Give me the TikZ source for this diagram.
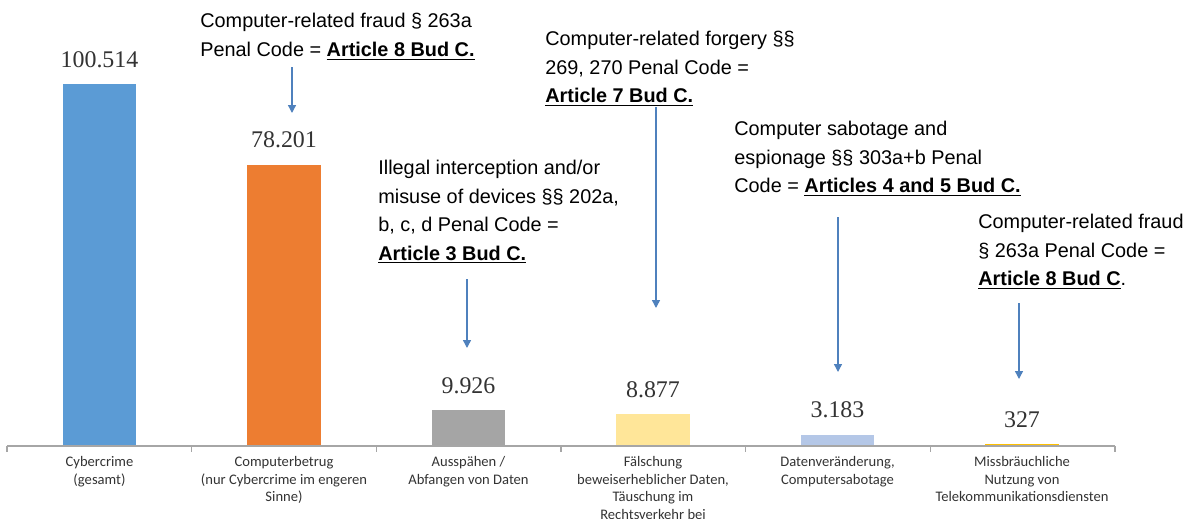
\documentclass[tikz,border=0pt]{standalone}
\usepackage{fontspec}
\setmainfont{Liberation Sans}
\newfontfamily\valuefont{Liberation Serif}
\newfontfamily\catfont{Carlito}
\usepackage{tikz}
\usetikzlibrary{arrows.meta, positioning}
\definecolor{barblue}{RGB}{91,155,213}
\definecolor{barorange}{RGB}{237,125,49}
\definecolor{bargray}{RGB}{165,165,165}
\definecolor{baryellow}{RGB}{255,230,153}
\definecolor{barlight}{RGB}{180,199,231}
\definecolor{bargold}{RGB}{255,192,0}
\definecolor{arrowblue}{RGB}{79,129,189}
\tikzstyle{bar} = [rectangle, draw=none, inner sep=0, outer sep=0, minimum width=1.48cm, anchor=south]
\tikzstyle{value} = [inner sep=0, text=black!80, font=\valuefont\fontsize{13.6}{16}\selectfont]
\tikzstyle{category} = [inner sep=0, align=center, text=black!80, font=\catfont\fontsize{8.3}{10}\selectfont]
\tikzstyle{note} = [inner sep=0, anchor=north west, align=left, font=\fontsize{11.3}{16.2}\selectfont]
\tikzstyle{pointer} = [line width=0.8pt, draw=arrowblue, -{Triangle[width=4.5pt, length=4.5pt]}]
\tikzstyle{axis} = [line width=0.6pt, draw=black!35]

\begin{document}
\begin{tikzpicture}[x=0.02cm, y=-0.02cm]
\useasboundingbox (0,0) rectangle (1198,518);

% bars
\node (cyber) [bar, fill=barblue, minimum height=7.24cm] at (99.5,446) {};
\node (betrug) [bar, fill=barorange, minimum height=5.63cm] at (284,446) {};
\node (ausspaehen) [bar, fill=bargray, minimum height=0.715cm] at (468.5,446) {};
\node (faelschung) [bar, fill=baryellow, minimum height=0.64cm] at (653,446) {};
\node (sabotage) [bar, fill=barlight, minimum height=0.23cm] at (837.5,446) {};
\node (telekom) [bar, fill=bargold, minimum height=0.04cm] at (1022,446) {};

% values
\node (cyberval) [value, above=0.32cm of cyber] {100.514};
\node (betrugval) [value, above=0.32cm of betrug] {78.201};
\node (ausspaehenval) [value, above=0.32cm of ausspaehen] {9.926};
\node (faelschungval) [value, above=0.32cm of faelschung] {8.877};
\node (sabotageval) [value, above=0.32cm of sabotage] {3.183};
\node (telekomval) [value, above=0.32cm of telekom] {327};

% axis
\draw [axis] (7,446) -- (1115,446);
\foreach \x in {7,191.7,376.3,561,745.7,930.3,1115}
  \draw [axis] (\x,446) -- (\x,452);

% categories
\node (cybercat) [category, below=0.2cm of cyber] {Cybercrime\\(gesamt)};
\node (betrugcat) [category, below=0.2cm of betrug] {Computerbetrug\\(nur Cybercrime im engeren\\Sinne)};
\node (ausspaehencat) [category, below=0.2cm of ausspaehen] {Ausspähen /\\Abfangen von Daten};
\node (faelschungcat) [category, below=0.2cm of faelschung] {Fälschung\\beweiserheblicher Daten,\\Täuschung im\\Rechtsverkehr bei};
\node (sabotagecat) [category, below=0.2cm of sabotage] {Datenveränderung,\\Computersabotage};
\node (telekomcat) [category, below=0.2cm of telekom] {Missbräuchliche\\Nutzung von\\Telekommunikationsdiensten};

% notes
\node (fraudnote) [note] at (200,13) {Computer-related fraud § 263a\\Penal Code = \underline{\textbf{Article 8 Bud C.}}};
\node (interceptnote) [note] at (378,160) {Illegal interception and/or\\misuse of devices §§ 202a,\\b, c, d Penal Code =\\\underline{\textbf{Article 3 Bud C.}}};
\node (forgerynote) [note] at (545,31) {Computer-related forgery §§\\269, 270 Penal Code =\\\underline{\textbf{Article 7 Bud C.}}};
\node (sabotagenote) [note] at (734,121) {Computer sabotage and\\espionage §§ 303a+b Penal\\Code = \underline{\textbf{Articles 4 and 5 Bud C.}}};
\node (telekomnote) [note] at (978,214) {Computer-related fraud\\§ 263a Penal Code =\\\underline{\textbf{Article 8 Bud C}}.};

% pointers
\coordinate (fraudtail) at (292,67);
\coordinate (fraudtip) at (292,113);
\coordinate (intercepttail) at (467,279);
\coordinate (intercepttip) at (467,348);
\coordinate (forgerytail) at (656,107);
\coordinate (forgerytip) at (656,308);
\coordinate (sabotagetail) at (838,217);
\coordinate (sabotagetip) at (838,372);
\coordinate (telekomtail) at (1019,303);
\coordinate (telekomtip) at (1019,379);
\draw [pointer] (fraudtail) -- (fraudtip);
\draw [pointer] (intercepttail) -- (intercepttip);
\draw [pointer] (forgerytail) -- (forgerytip);
\draw [pointer] (sabotagetail) -- (sabotagetip);
\draw [pointer] (telekomtail) -- (telekomtip);

\end{tikzpicture}
\end{document}
